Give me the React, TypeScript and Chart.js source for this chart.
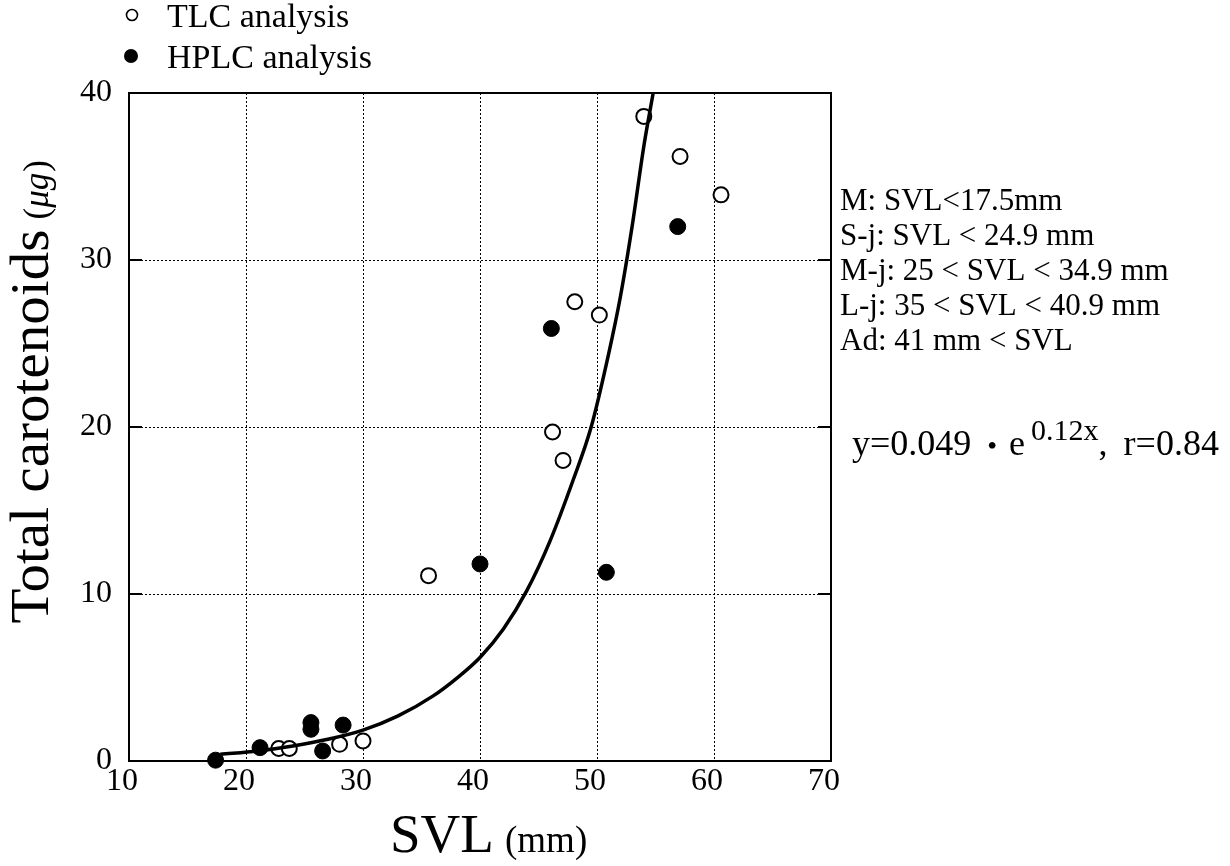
import React, { useEffect, useRef } from "react";
import { Chart, registerables } from "chart.js";

Chart.register(...registerables);

// ---- data ----
const tlcX = [22.8, 23.7, 28.0, 30.0, 35.6, 46.2, 47.1, 48.1, 50.2, 54.0, 57.1, 60.6];
const tlcY = [0.75, 0.75, 1.0, 1.2, 11.1, 19.7, 18.0, 27.5, 26.7, 38.6, 36.2, 33.9];

const hplcX = [17.4, 21.2, 25.55, 25.55, 26.55, 28.3, 40.0, 46.1, 50.8, 56.9];
const hplcY = [0.05, 0.8, 2.3, 1.9, 0.6, 2.15, 11.8, 25.9, 11.3, 32.0];

const curveX = [17.8, 21.0, 24.0, 27.0, 30.0, 33.0, 36.0, 38.0, 40.0, 42.0, 44.0, 46.0, 48.0, 49.5, 51.0, 52.0, 53.0, 54.0, 54.8];
const curveY = [0.4, 0.6, 0.9, 1.3, 1.85, 2.7, 3.9, 4.95, 6.2, 7.9, 10.2, 13.2, 16.9, 20.0, 24.4, 27.8, 32.0, 36.8, 40.0];

const xTicks = [10, 20, 30, 40, 50, 60, 70];
const yTicks = [0, 10, 20, 30, 40];

const legendLabels = ["TLC analysis", "HPLC analysis"];
const classLines = [
  "M: SVL<17.5mm",
  "S-j: SVL < 24.9 mm",
  "M-j: 25 < SVL < 34.9 mm",
  "L-j: 35 < SVL < 40.9 mm",
  "Ad: 41 mm < SVL",
];
const eqMain = "y=0.049";
const eqDot = "•";
const eqBase = "e";
const eqSup = "0.12x";
const eqComma = ",";
const eqTail = "r=0.84";
const xTitle = "SVL";
const xUnit = "(mm)";
const yTitle = "Total carotenoids";
const yUnit = "μg";

const SERIF = '"Liberation Serif", "Times New Roman", Times, serif';

const toPts = (xs: number[], ys: number[]) => xs.map((x, i) => ({ x, y: ys[i] }));

const decor = {
  id: "decor",
  beforeDatasetsDraw(chart: any) {
    const { ctx, chartArea: a, scales } = chart;
    ctx.save();
    ctx.strokeStyle = "#000";
    ctx.lineWidth = 2;
    ctx.strokeRect(a.left, a.top, a.right - a.left, a.bottom - a.top);
    yTicks.slice(1, -1).forEach((v) => {
      const y = scales.y.getPixelForValue(v);
      ctx.beginPath();
      ctx.moveTo(a.left, y);
      ctx.lineTo(a.left + 13, y);
      ctx.moveTo(a.right - 13, y);
      ctx.lineTo(a.right, y);
      ctx.stroke();
    });
    ctx.restore();
  },
  afterDraw(chart: any) {
    const { ctx } = chart;
    ctx.save();
    ctx.fillStyle = "#000";
    ctx.strokeStyle = "#000";
    ctx.textAlign = "left";
    ctx.textBaseline = "alphabetic";

    // legend
    ctx.lineWidth = 1.6;
    ctx.beginPath();
    ctx.arc(132, 15, 5.5, 0, Math.PI * 2);
    ctx.fillStyle = "#fff";
    ctx.fill();
    ctx.stroke();
    ctx.fillStyle = "#000";
    ctx.beginPath();
    ctx.arc(131, 56, 7, 0, Math.PI * 2);
    ctx.fill();
    ctx.font = `34px ${SERIF}`;
    ctx.fillText(legendLabels[0], 167, 27);
    ctx.fillText(legendLabels[1], 167, 68);

    // class definitions
    ctx.font = `31px ${SERIF}`;
    classLines.forEach((t, i) => ctx.fillText(t, 840, 210 + i * 35));

    // equation (pieces laid out left to right)
    const by = 455;
    let x = 852;
    ctx.font = `36px ${SERIF}`;
    ctx.fillText(eqMain, x, by);
    x += ctx.measureText(eqMain).width + 16;
    ctx.font = `28px ${SERIF}`;
    ctx.fillText(eqDot, x, by);
    x += ctx.measureText(eqDot).width + 12;
    ctx.font = `36px ${SERIF}`;
    ctx.fillText(eqBase, x, by);
    x += ctx.measureText(eqBase).width + 6;
    ctx.font = `30px ${SERIF}`;
    ctx.fillText(eqSup, x, by - 15);
    x += ctx.measureText(eqSup).width;
    ctx.font = `36px ${SERIF}`;
    ctx.fillText(eqComma, x, by);
    x += ctx.measureText(eqComma).width + 16;
    ctx.fillText(eqTail, x, by);

    // x title
    ctx.font = `55px ${SERIF}`;
    ctx.fillText(xTitle, 390, 852);
    ctx.font = `37px ${SERIF}`;
    ctx.fillText(xUnit, 505, 852);

    // y title
    ctx.translate(48, 426.5);
    ctx.rotate(-Math.PI / 2);
    ctx.font = `54px ${SERIF}`;
    const w = ctx.measureText(yTitle).width;
    const sx = 394 / w;
    ctx.save();
    ctx.scale(sx, 1);
    ctx.textAlign = "center";
    ctx.fillText(yTitle, 0, 0);
    ctx.restore();
    ctx.textAlign = "left";
    let ux = (w * sx) / 2 + 10;
    ctx.font = `35px ${SERIF}`;
    ctx.fillText("(", ux, 0);
    ux += ctx.measureText("(").width;
    ctx.font = `italic 35px ${SERIF}`;
    ctx.fillText(yUnit, ux, 0);
    ux += ctx.measureText(yUnit).width + 1;
    ctx.font = `35px ${SERIF}`;
    ctx.fillText(")", ux, 0);
    ctx.restore();
  },
};

export default function App() {
  const ref = useRef<HTMLCanvasElement | null>(null);

  useEffect(() => {
    if (!ref.current) return;
    const gridColor = (c: any) => {
      const n = c.scale && c.scale.ticks ? c.scale.ticks.length : 0;
      return c.index === 0 || c.index === n - 1 ? "rgba(0,0,0,0)" : "#000";
    };
    const chart = new Chart(ref.current, {
      type: "scatter",
      data: {
        datasets: [
          {
            label: legendLabels[1],
            data: toPts(hplcX, hplcY),
            pointRadius: 8,
            pointBackgroundColor: "#000",
            pointBorderColor: "#000",
            pointBorderWidth: 1,
            clip: false,
          } as any,
          {
            label: "fit",
            data: toPts(curveX, curveY),
            showLine: true,
            pointRadius: 0,
            borderColor: "#000",
            borderWidth: 3.5,
            cubicInterpolationMode: "monotone",
          } as any,
          {
            label: legendLabels[0],
            data: toPts(tlcX, tlcY),
            pointRadius: 7.5,
            pointBackgroundColor: "#fff",
            pointBorderColor: "#000",
            pointBorderWidth: 2,
            clip: false,
          } as any,
        ],
      },
      options: {
        animation: false,
        responsive: false,
        events: [],
        layout: { padding: { left: 0, top: 93, right: 399, bottom: 0 } },
        plugins: { legend: { display: false }, tooltip: { enabled: false }, title: { display: false } },
        scales: {
          x: {
            type: "linear",
            min: xTicks[0],
            max: xTicks[xTicks.length - 1],
            afterBuildTicks: (s: any) => {
              s.ticks = xTicks.map((v) => ({ value: v }));
            },
            afterFit: (s: any) => {
              s.height = 105;
            },
            ticks: {
              color: "#000",
              font: { family: SERIF, size: 32 },
              padding: 1,
              labelOffset: -7,
              maxRotation: 0,
            },
            grid: { color: gridColor, lineWidth: 1, drawTicks: false },
            border: { display: false, dash: [2, 2] },
          },
          y: {
            type: "linear",
            min: yTicks[0],
            max: yTicks[yTicks.length - 1],
            afterBuildTicks: (s: any) => {
              s.ticks = yTicks.map((v) => ({ value: v }));
            },
            afterFit: (s: any) => {
              s.width = 129;
            },
            ticks: {
              color: "#000",
              font: { family: SERIF, size: 32 },
              padding: 17,
            },
            grid: { color: gridColor, lineWidth: 1, drawTicks: false },
            border: { display: false, dash: [2, 2] },
          },
        },
      },
      plugins: [decor],
    });
    return () => chart.destroy();
  }, []);

  return (
    <div style={{ position: "fixed", left: 0, top: 0, width: 1230, height: 866, background: "#fff" }}>
      <canvas ref={ref} width={1230} height={866} style={{ width: 1230, height: 866 }} />
    </div>
  );
}
